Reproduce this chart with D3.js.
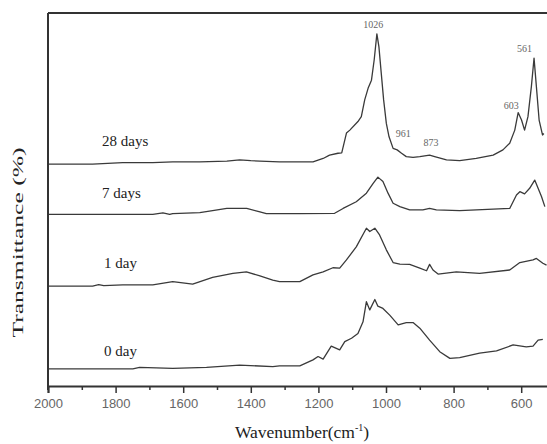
<!DOCTYPE html>
<html>
<head>
<meta charset="utf-8">
<script src="https://cdn.jsdelivr.net/npm/d3@7"></script>
<style>
  body { margin: 0; background: #fff; }
  .x-axis .tick text { font-family: 'Liberation Sans', Arial, sans-serif; font-size: 13px; fill: #666; }
  .axis-label { font-family: 'Liberation Serif', 'Times New Roman', serif; fill: #222; }
  .series-label { font-family: 'Liberation Serif', 'Times New Roman', serif; font-size: 15px; fill: #222; }
  .peak-label { font-family: 'Liberation Serif', 'Times New Roman', serif; font-size: 10px; fill: #666; }
</style>
</head>
<body>
<div id="chart"></div>
<script>
// FTIR spectra, wavenumber (cm-1) vs transmittance (offset, arbitrary units)
const seriesNames = ['0 day', '1 day', '7 days', '28 days'];

const wn0 = [2000, 1749, 1729, 1631, 1531, 1433, 1335, 1315, 1255, 1216, 1201, 1186, 1162, 1147, 1137, 1122, 1102, 1083, 1068, 1058, 1048, 1033, 1024, 1009, 989, 964, 940, 920, 900, 871, 841, 811, 782, 723, 673, 624, 585, 565, 550, 536];
const t0 = [4.6, 4.6, 5.0, 4.7, 5.0, 5.6, 5.2, 5.4, 5.4, 7.0, 7.9, 7.2, 10.7, 10.1, 9.7, 11.9, 12.8, 14.1, 17.2, 22.6, 20.4, 23.2, 21.4, 20.8, 19.0, 16.4, 17.0, 17.0, 15.5, 12.3, 9.2, 7.4, 7.6, 8.8, 9.4, 11.0, 10.5, 10.7, 12.3, 12.5];

const wn1 = [2000, 1868, 1850, 1835, 1779, 1690, 1631, 1572, 1513, 1453, 1413, 1373, 1335, 1315, 1255, 1216, 1186, 1157, 1137, 1117, 1088, 1058, 1048, 1033, 1019, 999, 979, 959, 930, 900, 880, 871, 861, 846, 792, 723, 634, 604, 565, 555, 536, 525];
const t1 = [26.8, 26.8, 27.2, 26.9, 27.1, 27.1, 28.0, 27.3, 29.1, 30.2, 30.6, 29.5, 28.4, 28.0, 28.0, 29.8, 30.6, 31.7, 31.6, 33.8, 37.3, 42.3, 41.4, 42.3, 40.5, 36.5, 33.1, 32.7, 32.6, 31.6, 30.9, 32.6, 31.1, 30.0, 30.6, 30.2, 31.1, 33.1, 33.8, 34.2, 32.9, 32.4];

const wn7 = [2000, 1690, 1660, 1640, 1631, 1551, 1513, 1471, 1412, 1373, 1354, 1315, 1255, 1152, 1127, 1088, 1058, 1038, 1024, 1009, 994, 979, 959, 930, 891, 871, 851, 782, 683, 634, 614, 604, 590, 575, 560, 550, 540, 530];
const t7 = [46.0, 46.0, 46.4, 46.0, 46.2, 46.5, 47.0, 47.6, 47.6, 46.7, 46.2, 46.2, 46.2, 46.3, 47.6, 49.4, 51.7, 54.3, 56.0, 54.8, 51.7, 49.0, 48.1, 47.2, 47.2, 47.6, 47.2, 47.0, 47.4, 47.6, 51.2, 52.1, 51.5, 53.0, 55.2, 53.0, 50.8, 48.1];

const wn28 = [2000, 1868, 1779, 1690, 1631, 1551, 1471, 1433, 1400, 1373, 1315, 1255, 1216, 1186, 1167, 1142, 1131, 1117, 1107, 1083, 1073, 1063, 1053, 1043, 1035, 1027, 1021, 1014, 1007, 999, 991, 979, 967, 954, 940, 920, 900, 871, 856, 821, 782, 733, 683, 654, 634, 619, 609, 599, 590, 580, 570, 562, 555, 547, 537, 533];
const t28 = [59.5, 59.5, 59.9, 59.9, 60.1, 60.1, 60.3, 60.6, 60.4, 60.3, 60.1, 60.1, 60.1, 61.0, 61.9, 62.4, 62.5, 67.8, 68.6, 70.9, 72.2, 76.7, 79.8, 82.0, 87.4, 94.4, 91.0, 83.8, 76.7, 70.4, 66.8, 63.7, 63.3, 62.4, 61.5, 61.3, 61.5, 61.9, 61.5, 60.6, 60.4, 61.0, 61.9, 63.3, 65.1, 68.6, 73.3, 71.3, 68.6, 72.2, 80.2, 87.9, 80.2, 71.3, 67.3, 67.7];

const peakLabels = ['1026', '961', '873', '603', '561'];
const peakWn = [1026, 961, 873, 603, 561];

const majorTicks = [2000, 1800, 1600, 1400, 1200, 1000, 800, 600];
const minorTicks = [1900, 1700, 1500, 1300, 1100, 900, 700, 500];

const W = 547, H = 444;
const plotLeft = 48, plotTop = 13, plotBottom = 386;

const svg = d3.select('#chart').append('svg')
  .attr('width', W)
  .attr('height', H);

// x runs past the right edge of the picture, like the cropped original
const x = d3.scaleLinear().domain([2000, 400]).range([plotLeft, plotLeft + 1600 * 0.338]);
const y = d3.scaleLinear().domain([0, 100]).range([plotBottom, plotTop]);

const allSeries = [
  { name: seriesNames[0], wn: wn0, t: t0 },
  { name: seriesNames[1], wn: wn1, t: t1 },
  { name: seriesNames[2], wn: wn7, t: t7 },
  { name: seriesNames[3], wn: wn28, t: t28 },
];

const line = d3.line()
  .x((d) => x(d[0]))
  .y((d) => y(d[1]))
  .curve(d3.curveLinear);

svg.selectAll('.spectrum')
  .data(allSeries)
  .enter()
  .append('path')
  .attr('class', 'spectrum')
  .attr('d', (s) => line(d3.zip(s.wn, s.t)))
  .attr('fill', 'none')
  .attr('stroke', '#3a3a3a')
  .attr('stroke-width', 1.3)
  .attr('stroke-linejoin', 'round');

// series labels, sitting above each baseline
const labelDy = [-13, -18, -16, -18];
svg.selectAll('.series-label')
  .data(allSeries)
  .enter()
  .append('text')
  .attr('class', 'series-label')
  .attr('x', (s, i) => x(1840) + (i < 2 ? 2 : 0))
  .attr('y', (s, i) => y(s.t[0]) + labelDy[i])
  .text((s) => s.name);

// peak labels on the 28 days curve
const peakDy = [-6, -14, -9, -8, -6];
const peakDx = [-4, 4, 2, -9, -10];
const bis = d3.bisector((d) => -d).left;
function valueAt(wn, t, w) {
  const i = Math.min(Math.max(bis(wn, -w), 1), wn.length - 1);
  const a = wn[i - 1], b = wn[i];
  const k = (w - a) / (b - a);
  return t[i - 1] + k * (t[i] - t[i - 1]);
}
svg.selectAll('.peak-label')
  .data(peakLabels)
  .enter()
  .append('text')
  .attr('class', 'peak-label')
  .attr('text-anchor', 'middle')
  .attr('x', (d, i) => x(peakWn[i]) + peakDx[i])
  .attr('y', (d, i) => y(d3.max(t28.filter((v, j) => Math.abs(wn28[j] - peakWn[i]) < 6).concat([valueAt(wn28, t28, peakWn[i])]))) + peakDy[i])
  .text((d) => d);

// X axis: major ticks with labels, minor ticks without
svg.append('g')
  .attr('class', 'x-axis')
  .attr('transform', `translate(0, ${plotBottom})`)
  .call(d3.axisBottom(x).tickValues(majorTicks).tickSize(7).tickPadding(6).tickFormat(d3.format('d')));

svg.append('g')
  .attr('class', 'x-axis-minor')
  .attr('transform', `translate(0, ${plotBottom})`)
  .call(d3.axisBottom(x).tickValues(minorTicks).tickSize(4).tickFormat(''))
  .call((g) => g.select('.domain').remove());

svg.selectAll('.x-axis .domain').attr('stroke', '#333').attr('stroke-width', 2);
svg.selectAll('.x-axis .tick line, .x-axis-minor .tick line').attr('stroke', '#333').attr('stroke-width', 1.5);

// left and top frame lines
svg.append('line')
  .attr('x1', plotLeft).attr('x2', plotLeft)
  .attr('y1', plotTop).attr('y2', plotBottom + 4)
  .attr('stroke', '#333').attr('stroke-width', 2);

svg.append('line')
  .attr('x1', plotLeft).attr('x2', x(400))
  .attr('y1', plotTop).attr('y2', plotTop)
  .attr('stroke', '#333').attr('stroke-width', 2);

// axis titles
svg.append('text')
  .attr('class', 'axis-label')
  .attr('transform', `translate(23, ${(plotTop + plotBottom) / 2 + 43}) rotate(-90)`)
  .attr('text-anchor', 'middle')
  .attr('font-size', 15)
  .attr('textLength', 190)
  .attr('lengthAdjust', 'spacingAndGlyphs')
  .text('Transmittance (%)');

const xTitle = svg.append('text')
  .attr('class', 'axis-label')
  .attr('x', 302)
  .attr('y', 438)
  .attr('text-anchor', 'middle')
  .attr('font-size', 17.5);
xTitle.append('tspan').text('Wavenumber(cm');
xTitle.append('tspan').attr('font-size', 10).attr('dy', -7).text('-1');
xTitle.append('tspan').attr('dy', 7).text(')');
</script>
</body>
</html>
